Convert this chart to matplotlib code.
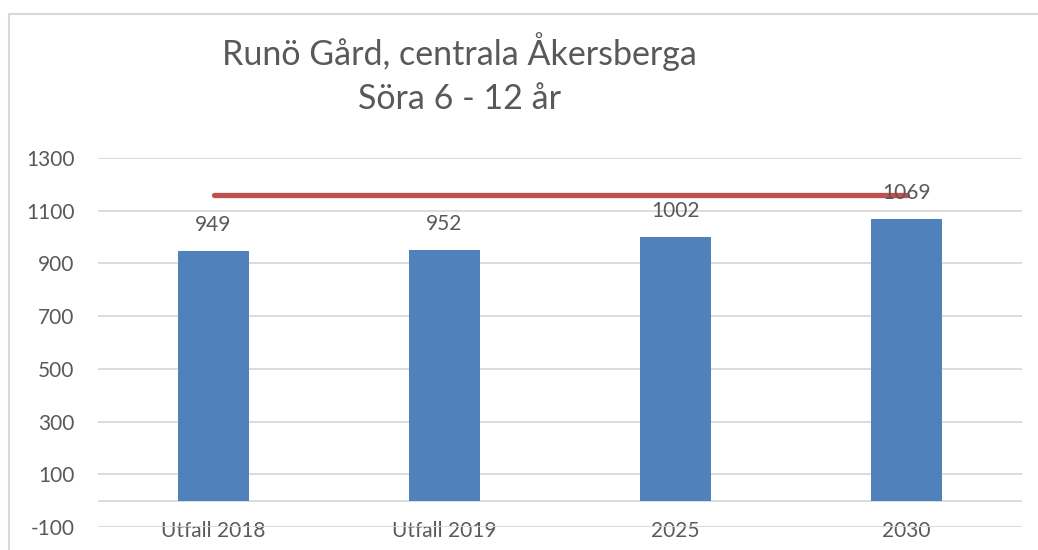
import matplotlib.pyplot as plt
from matplotlib.patches import Rectangle

# data
categories = ['Utfall 2018', 'Utfall 2019', '2025', '2030']
values = [949, 952, 1002, 1069]
capacity = 1160
title_lines = ['Runö Gård, centrala Åkersberga', 'Söra 6 - 12 år']

plt.rcParams['font.family'] = ['Lato', 'DejaVu Sans']
plt.rcParams['axes.unicode_minus'] = False
txt = '#595959'
grid = '#D9D9D9'

fig = plt.figure(figsize=(10.38, 5.5), dpi=100)
ax = fig.add_axes([98 / 1038, 23 / 550, (1022 - 98) / 1038, (527 - 158) / 550])

x = list(range(len(categories)))
ax.bar(x, values, width=0.31, color='#4F81BD', zorder=3)
for xi, v in zip(x, values):
    ax.annotate(str(v), (xi, v), xytext=(0, 18.5), textcoords='offset points',
                ha='center', va='center', fontsize=15, color=txt, zorder=5)

# capacity line across the categories
ax.plot([x[0], x[-1]], [capacity, capacity], color='#C0504D', lw=3.8,
        solid_capstyle='round', zorder=4)

ax.set_xlim(-0.5, len(categories) - 0.5)
ax.set_ylim(-100, 1300)
ax.set_yticks(range(-100, 1301, 200))
ax.set_xticks(x)
ax.set_xticklabels(categories)
ax.tick_params(axis='y', length=0, pad=17, labelsize=15, labelcolor=txt)
ax.tick_params(axis='x', length=0, pad=-4, labelsize=15, labelcolor=txt)
ax.grid(axis='y', color=grid, lw=1.3, zorder=0)
ax.axhline(0, color=grid, lw=1.3, zorder=1)
for s in ax.spines.values():
    s.set_visible(False)

fig.text(459 / 1038, 1 - 52 / 550, title_lines[0], ha='center', va='center',
         fontsize=24.5, color=txt)
fig.text(459 / 1038, 1 - 99 / 550, title_lines[1], ha='center', va='center',
         fontsize=24.5, color=txt)

# outer chart border
fig.patches.append(Rectangle((9 / 1038, -0.1), 1.2, 1 - 14 / 550 + 0.1,
                             transform=fig.transFigure, fill=False,
                             edgecolor=grid, lw=1.5))

fig.savefig('out.png', dpi=100)
